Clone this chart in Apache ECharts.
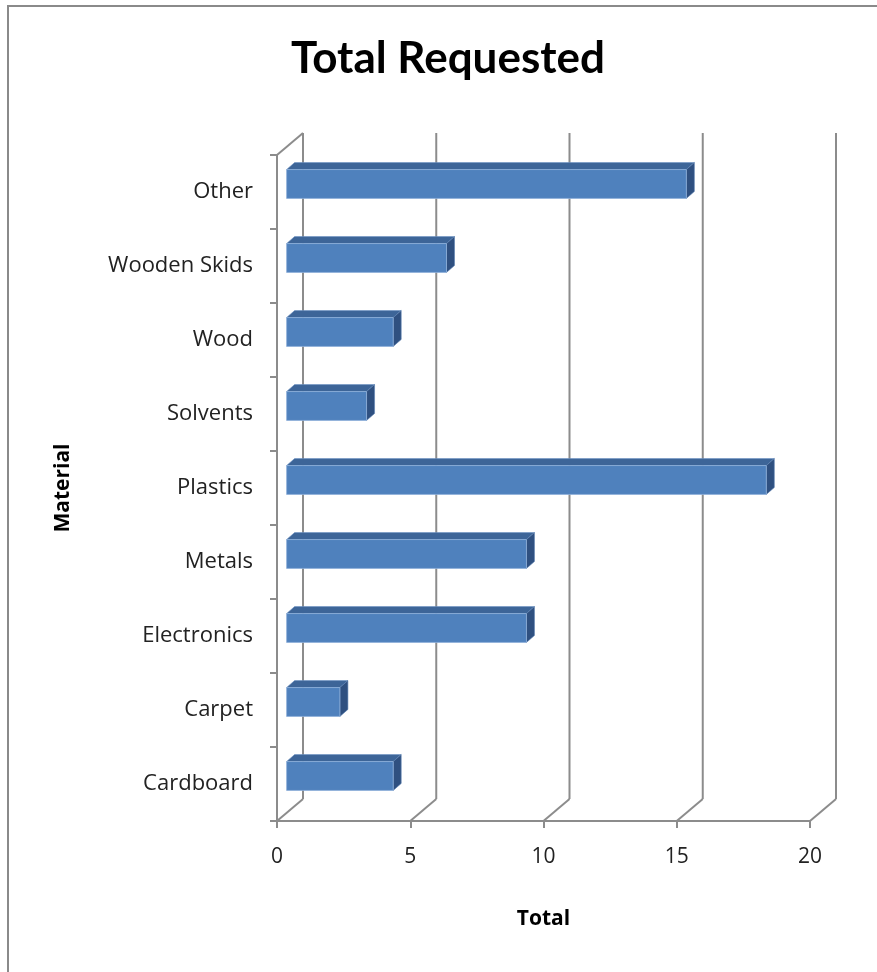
<!DOCTYPE html>
<html>
<head>
<meta charset="utf-8">
<title>Total Requested</title>
<script src="https://cdn.jsdelivr.net/npm/echarts@6/dist/echarts.min.js"></script>
<style>
  html, body { margin: 0; padding: 0; background: #fff; }
  #chart { width: 877px; height: 972px; }
</style>
</head>
<body>
<div id="chart"></div>
<script>
// Materials, listed bottom to top as they appear on the category axis
const materials = ['Cardboard', 'Carpet', 'Electronics', 'Metals', 'Plastics',
                   'Solvents', 'Wood', 'Wooden Skids', 'Other'];
const totals = [4, 2, 9, 9, 18, 3, 4, 6, 15];
const totalTicks = [0, 5, 10, 15, 20];

// Pseudo-3D geometry (pixels)
const WALL_DX = 26, WALL_DY = -22;      // offset of the back wall from the front plane
const BAR_FX = 9.6, BAR_FY = -8;        // offset of a bar's front face
const BAR_DX = 8, BAR_DY = -7;          // depth of a bar
const BAR_RATIO = 0.39;                 // bar height / category band
const GRID_COLOR = '#8c8c8c';
const TITLE_FONT = 'Lato, "Open Sans", sans-serif';
const FONT = '"Open Sans", Lato, sans-serif';

const chart = echarts.init(document.getElementById('chart'));

function renderWalls(params, api) {
  const t = api.value(0);
  const band = api.size([0, 1])[1];
  const last = materials.length - 1;
  const x = api.coord([t, 0])[0];
  const yBot = api.coord([t, 0])[1] + band / 2;
  const yTop = api.coord([t, last])[1] - band / 2;
  const style = { stroke: GRID_COLOR, lineWidth: 2 };
  const kids = [
    { type: 'line', shape: { x1: x, y1: yBot, x2: x + WALL_DX, y2: yBot + WALL_DY }, style },
    { type: 'line', shape: { x1: x + WALL_DX, y1: yBot + WALL_DY, x2: x + WALL_DX, y2: yTop + WALL_DY }, style }
  ];
  if (params.dataIndex === 0) {
    kids.push({ type: 'line', shape: { x1: x, y1: yTop, x2: x + WALL_DX, y2: yTop + WALL_DY }, style });
  }
  return { type: 'group', children: kids };
}

function renderBar(params, api) {
  const v = api.value(0), c = api.value(1);
  const p0 = api.coord([0, c]);
  const p1 = api.coord([v, c]);
  const band = api.size([0, 1])[1];
  const h = band * BAR_RATIO;
  const x0 = p0[0] + BAR_FX, x1 = p1[0] + BAR_FX;
  const yc = p0[1] + BAR_FY;
  const top = yc - h / 2, bot = yc + h / 2;
  return {
    type: 'group',
    children: [
      { type: 'polygon',
        shape: { points: [[x0, top], [x1, top], [x1 + BAR_DX, top + BAR_DY], [x0 + BAR_DX, top + BAR_DY]] },
        style: { fill: '#3d6598', stroke: '#6f93c4', lineWidth: 0.6 } },
      { type: 'polygon',
        shape: { points: [[x1, top], [x1 + BAR_DX, top + BAR_DY], [x1 + BAR_DX, bot + BAR_DY], [x1, bot]] },
        style: { fill: '#2f5080', stroke: '#5b7fb0', lineWidth: 0.6 } },
      { type: 'rect',
        shape: { x: x0, y: top, width: x1 - x0, height: h },
        style: { fill: '#4f81bd', stroke: '#8fb0d9', lineWidth: 0.8 } }
    ]
  };
}

chart.setOption({
  backgroundColor: '#fff',
  animation: false,
  title: {
    text: 'Total Requested',
    left: 443, top: 32, textAlign: 'center',
    textStyle: { fontFamily: TITLE_FONT, fontWeight: 'bold', fontSize: 44, color: '#000' }
  },
  graphic: [{
    type: 'rect', silent: true,
    shape: { x: 8, y: 6, width: 900, height: 1000 },
    style: { fill: 'none', stroke: '#8a8a8a', lineWidth: 2 }
  }],
  grid: { left: 277, right: 67, top: 155, bottom: 151 },
  xAxis: {
    type: 'value', min: 0, max: 20, interval: 5,
    name: 'Total', nameLocation: 'middle', nameGap: 88,
    nameTextStyle: { fontFamily: FONT, fontWeight: 'bold', fontSize: 21, color: '#000' },
    axisLine: { show: true, lineStyle: { color: GRID_COLOR, width: 2 } },
    axisTick: { show: true, length: 7, lineStyle: { color: GRID_COLOR, width: 2 } },
    axisLabel: { fontFamily: FONT, fontSize: 21, color: '#222', margin: 26 },
    splitLine: { show: false }
  },
  yAxis: {
    type: 'category', data: materials,
    name: 'Material', nameLocation: 'middle', nameGap: 203, nameRotate: 90,
    nameTextStyle: { fontFamily: FONT, fontWeight: 'bold', fontSize: 21, color: '#000' },
    axisLine: { show: true, lineStyle: { color: GRID_COLOR, width: 2 } },
    axisTick: { show: true, length: 7, lineStyle: { color: GRID_COLOR, width: 2 } },
    axisLabel: { fontFamily: FONT, fontSize: 22, color: '#222', margin: 24 },
    splitLine: { show: false }
  },
  series: [
    {
      type: 'custom', name: 'walls', z: 1, silent: true,
      renderItem: renderWalls,
      encode: { x: 0 },
      data: totalTicks.map(t => [t, 0])
    },
    {
      type: 'custom', name: 'Total', z: 5,
      renderItem: renderBar,
      encode: { x: 0, y: 1 },
      data: totals.map((v, i) => [v, i])
    }
  ]
});
</script>
</body>
</html>
